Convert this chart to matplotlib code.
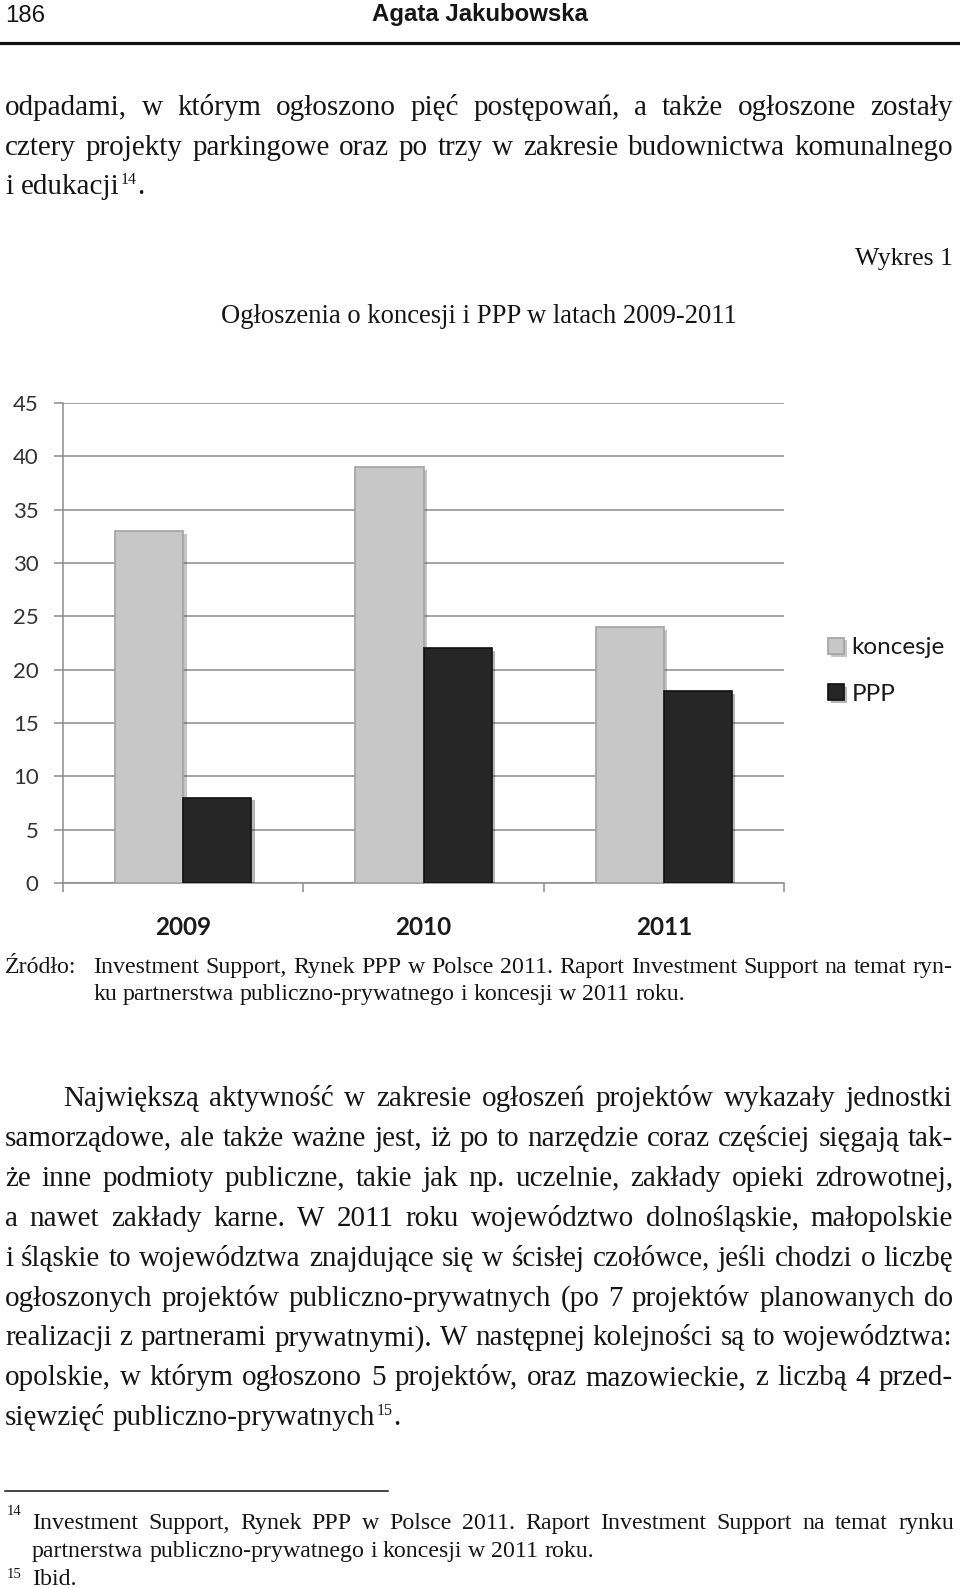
import matplotlib
matplotlib.use('Agg')
import matplotlib.pyplot as plt
from matplotlib import font_manager as fm
from matplotlib.lines import Line2D
import matplotlib.patheffects as pe
import numpy as np

# ---------------- data ----------------
years = ['2009', '2010', '2011']
koncesje = [33, 39, 24]
ppp = [8, 22, 18]
series_names = ['koncesje', 'PPP']
y_ticks = [0, 5, 10, 15, 20, 25, 30, 35, 40, 45]

header_page = '186'
header_author = 'Agata Jakubowska'
top_lines = [
    'odpadami, w którym ogłoszono pięć postępowań, a także ogłoszone zostały',
    'cztery projekty parkingowe oraz po trzy w zakresie budownictwa komunalnego',
    'i edukacji',
]
chart_label = 'Wykres 1'
chart_title = 'Ogłoszenia o koncesji i PPP w latach 2009-2011'
source_head = 'Źródło:'
source_lines = [
    'Investment Support, Rynek PPP w Polsce 2011. Raport Investment Support na temat ryn-',
    'ku partnerstwa publiczno-prywatnego i koncesji w 2011 roku.',
]
para_lines = [
    'Największą aktywność w zakresie ogłoszeń projektów wykazały jednostki',
    'samorządowe, ale także ważne jest, iż po to narzędzie coraz częściej sięgają tak-',
    'że inne podmioty publiczne, takie jak np. uczelnie, zakłady opieki zdrowotnej,',
    'a nawet zakłady karne. W 2011 roku województwo dolnośląskie, małopolskie',
    'i śląskie to województwa znajdujące się w ścisłej czołówce, jeśli chodzi o liczbę',
    'ogłoszonych projektów publiczno-prywatnych (po 7 projektów planowanych do',
    'realizacji z partnerami prywatnymi). W następnej kolejności są to województwa:',
    'opolskie, w którym ogłoszono 5 projektów, oraz mazowieckie, z liczbą 4 przed-',
    'sięwzięć publiczno-prywatnych',
]
fn14_lines = [
    'Investment Support, Rynek PPP w Polsce 2011. Raport Investment Support na temat rynku',
    'partnerstwa publiczno-prywatnego i koncesji w 2011 roku.',
]
fn15_text = 'Ibid.'

# ---------------- setup ----------------
W, H, DPI = 960, 1588, 100
fig = plt.figure(figsize=(W / DPI, H / DPI), dpi=DPI)
fig.patch.set_facecolor('white')

avail = {f.name for f in fm.fontManager.ttflist}
SERIF = 'Liberation Serif' if 'Liberation Serif' in avail else 'DejaVu Serif'
if 'Liberation Sans Narrow' in avail:
    NARROW = 'Liberation Sans Narrow'
elif 'Liberation Sans' in avail:
    NARROW = 'Liberation Sans'
else:
    NARROW = 'DejaVu Sans'
CHART = 'Lato' if 'Lato' in avail else 'DejaVu Sans'
TXT = '#151515'

renderer = fig.canvas.get_renderer()


def fx(x):
    return x / W


def fy(y):
    return 1 - y / H


def measure(s, size, family, weight='normal'):
    t = fig.text(0, 0, s, fontsize=size, family=family, weight=weight)
    w = t.get_window_extent(renderer).width
    t.remove()
    return w


def fit(s, width, family, weight='normal'):
    return 20 * width / measure(s, 20, family, weight)


def put_line(text, x0, x1, yb, size, family=SERIF, justify=True):
    words = text.split(' ')
    widths = [measure(w, size, family) for w in words]
    natural_gap = measure('a a', size, family) - measure('aa', size, family)
    if justify and len(words) > 1:
        gap = (x1 - x0 - sum(widths)) / (len(words) - 1)
    else:
        gap = natural_gap
    x = x0
    for w, wd in zip(words, widths):
        fig.text(fx(x), fy(yb), w, fontsize=size, family=family,
                 va='baseline', ha='left', color=TXT)
        x += wd + gap
    return x - gap


def sup(x, yb, s, size, raise_px):
    fig.text(fx(x), fy(yb - raise_px), s, fontsize=size, family=SERIF,
             va='baseline', ha='left', color=TXT)


body = fit('sięwzięć publiczno-prywatnych', 370, SERIF)
title_size = fit(chart_title, 516, SERIF)
label_size = fit(chart_label, 98, SERIF)
src = fit(source_lines[1], 592, SERIF)
fns = fit(fn14_lines[1], 562, SERIF)
hdr = fit(header_author, 215, NARROW, 'bold')

L, R = 5, 953

# ---------------- header ----------------
fig.text(fx(5), fy(22), header_page, fontsize=hdr, family=NARROW, va='baseline',
         ha='left', color=TXT)
fig.text(fx(480), fy(21), header_author, fontsize=hdr, family=NARROW, weight='bold',
         va='baseline', ha='center', color=TXT)
fig.add_artist(Line2D([0, 1], [fy(43), fy(43)], color='#111111', lw=2.3,
                      transform=fig.transFigure))

# ---------------- top text ----------------
put_line(top_lines[0], L, R, 115, body)
put_line(top_lines[1], L, R, 155, body)
xe = put_line(top_lines[2], L, R, 194, body, justify=False)
sup(xe + 2, 194, '14', body * 0.55, 10)
fig.text(fx(xe + 2 + measure('14', body * 0.55, SERIF)), fy(194), '.', fontsize=body,
         family=SERIF, va='baseline', color=TXT)

fig.text(fx(R), fy(265), chart_label, fontsize=label_size, family=SERIF, va='baseline',
         ha='right', color=TXT)
fig.text(fx(479), fy(323), chart_title, fontsize=title_size, family=SERIF, va='baseline',
         ha='center', color=TXT)

# ---------------- chart ----------------
ax = fig.add_axes([63 / W, 1 - 883 / H, (784 - 63) / W, 480 / H])
x = np.arange(len(years))
bw = 0.283
shadow = [pe.SimplePatchShadow(offset=(2.5, -2), alpha=0.3), pe.Normal()]
ax.bar(x - bw / 2, koncesje, bw, color='#c7c7c7', edgecolor='#a2a2a2', lw=1.2,
       label=series_names[0], zorder=3, path_effects=shadow)
ax.bar(x + bw / 2, ppp, bw, color='#262626', edgecolor='#111111', lw=1.2,
       label=series_names[1], zorder=3, path_effects=shadow)
ax.set_xlim(-0.5, len(years) - 0.5)
ax.set_ylim(0, 45)
ax.set_yticks(y_ticks)
ax.yaxis.grid(True, color='#8c8c8c', lw=1.1, zorder=0)
ax.set_axisbelow(True)
for s in ['top', 'right']:
    ax.spines[s].set_visible(False)
for s in ['left', 'bottom']:
    ax.spines[s].set_color('#8c8c8c')
    ax.spines[s].set_linewidth(1.1)
ax.set_xticks(x)
ax.set_xticklabels(years, fontsize=17.5, family=CHART, weight='bold', color='#1a1a1a')
ax.set_xticks(np.arange(len(years) + 1) - 0.5, minor=True)
ax.tick_params(axis='x', which='major', length=0, pad=24)
ax.tick_params(axis='x', which='minor', length=6.5, width=1.1, color='#8c8c8c')
ax.tick_params(axis='y', length=6.5, width=1.1, color='#8c8c8c', pad=11,
               labelsize=16, labelcolor='#333333')
for lab in ax.get_yticklabels():
    lab.set_family(CHART)
ax.set_facecolor('white')

leg = ax.legend(loc='center left', bbox_to_anchor=(828 / W, fy(671)),
                bbox_transform=fig.transFigure, frameon=False,
                prop={'family': CHART, 'size': 17.5}, handlelength=0.65,
                handleheight=0.65, handletextpad=0.32, labelspacing=1.05,
                borderpad=0, borderaxespad=0)
for t in leg.get_texts():
    t.set_color('#1a1a1a')

# ---------------- source ----------------
fig.text(fx(L), fy(973), source_head, fontsize=src, family=SERIF, va='baseline',
         color=TXT)
put_line(source_lines[0], 93, R, 973, src)
put_line(source_lines[1], 93, R, 1000, src, justify=False)

# ---------------- paragraph ----------------
for i, line in enumerate(para_lines):
    yb = 1106 + 39.9 * i
    x0 = 63 if i == 0 else L
    last = i == len(para_lines) - 1
    xe = put_line(line, x0, R, yb, body, justify=not last)
    if last:
        sup(xe + 2, yb, '15', body * 0.55, 10)
        fig.text(fx(xe + 2 + measure('15', body * 0.55, SERIF)), fy(yb), '.',
                 fontsize=body, family=SERIF, va='baseline', color=TXT)

# ---------------- footnotes ----------------
fig.add_artist(Line2D([fx(5), fx(388)], [fy(1491), fy(1491)], color='#111111', lw=1.1,
                      transform=fig.transFigure))
sup(7, 1529, '14', fns * 0.62, 14)
put_line(fn14_lines[0], 32, 954, 1529, fns)
put_line(fn14_lines[1], 32, 954, 1557, fns, justify=False)
sup(7, 1585, '15', fns * 0.62, 7)
put_line(fn15_text, 32, 954, 1585, fns, justify=False)

fig.savefig('out.png', dpi=DPI, facecolor='white')
